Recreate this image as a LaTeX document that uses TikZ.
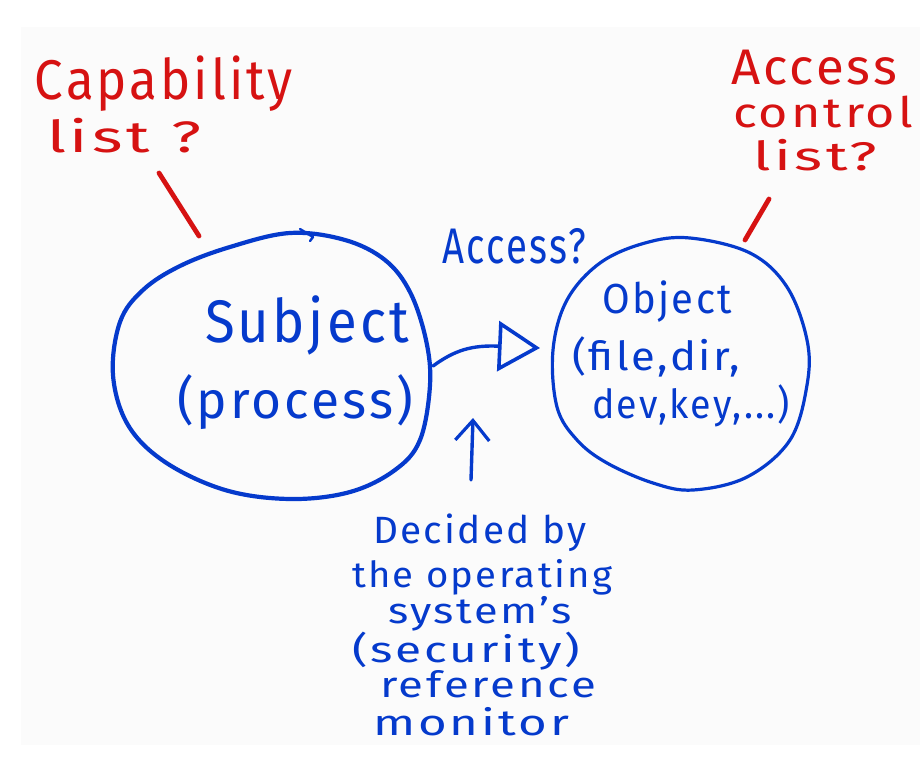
\documentclass[tikz,border=0pt]{standalone}
\usepackage{fontspec}
\setmainfont{Fira Sans}[LetterSpace=6]
\usepackage{graphicx}
\usetikzlibrary{arrows.meta}
\definecolor{ink}{RGB}{5,58,204}
\definecolor{redink}{RGB}{214,18,18}
\definecolor{paper}{RGB}{251,251,251}
% width (pt), font size (pt), text
\newcommand\hw[3]{{\fontsize{#2pt}{#2pt}\selectfont\resizebox{#1pt}{\height}{#3}}}
\begin{document}
\begin{tikzpicture}[x=0.5pt,y=-0.5pt,
  every node/.style={inner sep=0pt,outer sep=0pt,anchor=base west},
  bluetxt/.style={text=ink},
  redtxt/.style={text=redink},
  bubble/.style={draw=ink,line cap=round,line join=round},
  redline/.style={draw=redink,line width=2.4pt,line cap=round},
  conn/.style={draw=ink,line width=1.7pt,line cap=round,line join=round}]
\useasboundingbox (0,0) rectangle (920,765);
\fill[paper] (21,27) rectangle (920,745);

% red labels
\node[redtxt] (cap) at (35,100) {\hw{129}{28}{Capability}};
\node[redtxt] (capl) at (47,153) {\hw{77}{22}{list ?}};
\node[redtxt] (acl1) at (731,85) {\hw{83}{25}{Access}};
\node[redtxt] (acl2) at (733,127) {\hw{90}{21}{control}};
\node[redtxt] (acl3) at (753,170) {\hw{62}{20}{list?}};

% subject bubble
\draw[bubble,line width=2.1pt] plot[smooth cycle,tension=0.6] coordinates {
 (290,233) (345,240) (385,260) (410,292) (426,340) (430,385) (420,440)
 (395,470) (350,492) (290,499) (225,490) (165,462) (128,425) (113,375)
 (120,322) (143,290) (180,266) (230,247)};
\draw[bubble,line width=1.2pt] (300,229) -- (313,237) -- (310,241);
\node[bluetxt] (subj) at (205,342) {\hw{102}{30}{Subject}};
\node[bluetxt] (proc) at (177,418) {\hw{118}{26}{(process)}};

% object bubble
\draw[bubble,line width=1.6pt] plot[smooth cycle,tension=0.6] coordinates {
 (690,238) (750,253) (787,287) (807,340) (807,385) (790,440) (747,477)
 (693,490) (653,483) (607,463) (577,440) (557,407) (553,350) (567,300)
 (600,263) (645,243)};
\node[bluetxt] (obj) at (602,313) {\hw{65}{21}{Object}};
\node[bluetxt] (obj2) at (572,370) {\hw{84}{20}{(file,dir,}};
\node[bluetxt] (obj3) at (592,418) {\hw{99}{20}{dev,key,...)}};

% access question
\node[bluetxt] (acc) at (442,263) {\hw{72}{25}{Access?}};

% red connector strokes
\coordinate (r1a) at (159,173); \coordinate (r1b) at (199,236);
\coordinate (r2a) at (769,199); \coordinate (r2b) at (745,240);
\draw[redline] (r1a) -- (r1b);
\draw[redline] (r2a) -- (r2b);

% access arrow
\coordinate (sR) at (433,366);
\coordinate (oL) at (540,348);
\draw[conn,-{Triangle[open,length=21pt,width=25pt,line width=1.8pt]}]
  (sR) .. controls (455,350) and (472,345) .. (oL);

% bottom text
\node[bluetxt] (d1) at (373,543) {\hw{107}{19}{Decided by}};
\node[bluetxt] (d2) at (352,587) {\hw{130}{18}{the operating}};
\node[bluetxt] (d3) at (388,623) {\hw{92}{18}{system's}};
\node[bluetxt] (d4) at (352,662) {\hw{114}{18}{(security)}};
\node[bluetxt] (d5) at (380,697) {\hw{108}{18}{reference}};
\node[bluetxt] (d6) at (373,735) {\hw{98}{18}{monitor}};

% upward arrow
\coordinate (upTail) at (471,480);
\coordinate (upTip) at (473,418);
\draw[conn,-{Straight Barb[length=10pt,width=17pt,line width=1.6pt]}] (upTail) -- (upTip);
\end{tikzpicture}
\end{document}
